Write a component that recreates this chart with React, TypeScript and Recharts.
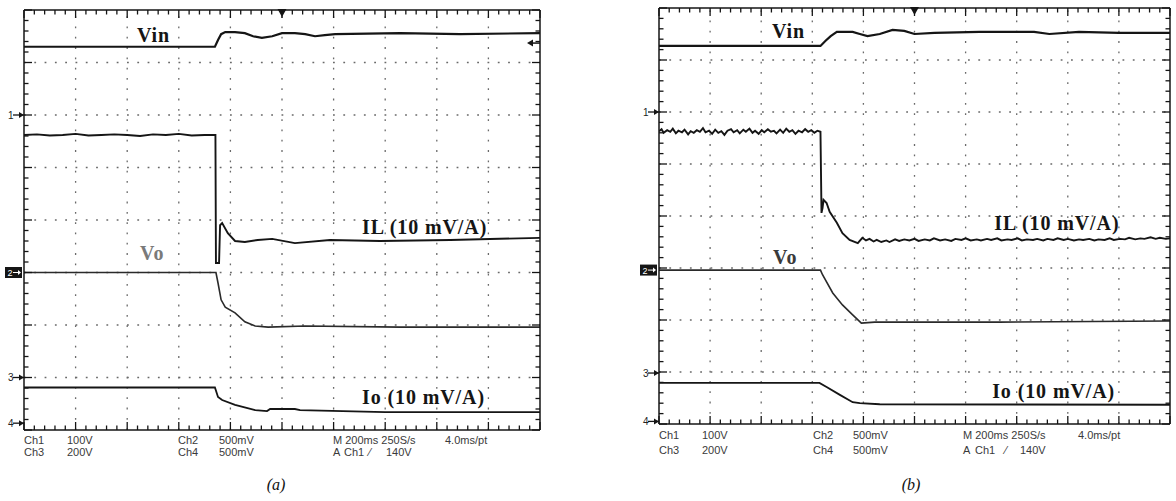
import React from 'react';
import { LineChart, Line, XAxis, YAxis, ReferenceLine, ReferenceDot } from 'recharts';

type Pt = [number, number];

// Time in screen divisions (0..10), level in divisions from the bottom (0..8)
// ---------- Panel (a) ----------
const VIN_A: Pt[] = [[0, 7.3], [3.7, 7.3], [3.76, 7.43], [3.82, 7.54], [3.9, 7.58], [4.09, 7.58], [4.28, 7.56], [4.44, 7.5], [4.61, 7.47], [4.81, 7.5], [5.0, 7.56], [5.25, 7.56], [5.45, 7.54], [5.64, 7.5], [5.83, 7.52], [6.03, 7.54], [7.29, 7.56], [8.45, 7.54], [10, 7.56]];
const IL_A: Pt[] = [[0, 5.62], [0.25, 5.63], [0.5, 5.61], [0.75, 5.62], [1.0, 5.64], [1.25, 5.61], [1.5, 5.62], [1.75, 5.63], [2.0, 5.62], [2.25, 5.6], [2.5, 5.63], [2.75, 5.62], [3.0, 5.64], [3.25, 5.61], [3.5, 5.62], [3.71, 5.62], [3.72, 3.18], [3.78, 3.18], [3.8, 3.9], [3.84, 3.94], [3.95, 3.75], [4.09, 3.6], [4.28, 3.58], [4.53, 3.62], [4.81, 3.64], [5.25, 3.56], [5.93, 3.62], [6.9, 3.6], [8.26, 3.62], [10, 3.66]];
const VO_A: Pt[] = [[0, 3.0], [3.72, 3.0], [3.76, 2.8], [3.82, 2.48], [3.9, 2.34], [4.09, 2.23], [4.28, 2.06], [4.48, 1.98], [4.73, 1.96], [5.45, 1.98], [7.29, 1.96], [10, 1.96]];
const IO_A: Pt[] = [[0, 0.81], [3.7, 0.81], [3.76, 0.63], [3.84, 0.57], [4.09, 0.48], [4.48, 0.38], [4.71, 0.36], [4.77, 0.4], [5.25, 0.4], [5.35, 0.38], [7.0, 0.34], [10, 0.34]];

// ---------- Panel (b) ----------
const VIN_B: Pt[] = [[0, 7.27], [3.16, 7.27], [3.26, 7.37], [3.36, 7.46], [3.48, 7.54], [3.63, 7.54], [3.79, 7.54], [3.93, 7.5], [4.08, 7.46], [4.32, 7.5], [4.57, 7.58], [4.8, 7.56], [5.0, 7.5], [5.39, 7.52], [6.27, 7.54], [7.34, 7.54], [7.64, 7.5], [8.22, 7.54], [9.0, 7.52], [10, 7.52]];
const IL_B: Pt[] = [[0, 5.63], [0.05, 5.67], [0.09, 5.6], [0.16, 5.65], [0.22, 5.62], [0.27, 5.68], [0.33, 5.59], [0.38, 5.64], [0.45, 5.61], [0.5, 5.66], [0.57, 5.57], [0.62, 5.63], [0.68, 5.6], [0.74, 5.65], [0.8, 5.62], [0.86, 5.69], [0.91, 5.61], [0.98, 5.64], [1.04, 5.58], [1.1, 5.66], [1.16, 5.6], [1.22, 5.63], [1.28, 5.56], [1.34, 5.64], [1.41, 5.67], [1.46, 5.61], [1.53, 5.65], [1.58, 5.59], [1.65, 5.66], [1.7, 5.62], [1.77, 5.68], [1.83, 5.6], [1.88, 5.64], [1.95, 5.58], [2.01, 5.65], [2.06, 5.61], [2.13, 5.67], [2.19, 5.62], [2.25, 5.64], [2.3, 5.59], [2.37, 5.66], [2.43, 5.6], [2.49, 5.68], [2.55, 5.62], [2.61, 5.65], [2.67, 5.58], [2.73, 5.64], [2.8, 5.61], [2.86, 5.67], [2.92, 5.62], [2.98, 5.65], [3.04, 5.6], [3.1, 5.64], [3.16, 5.62], [3.18, 4.06], [3.2, 4.15], [3.22, 4.31], [3.28, 4.25], [3.34, 4.08], [3.48, 3.87], [3.59, 3.67], [3.73, 3.54], [3.89, 3.48], [3.98, 3.58], [4.05, 3.53], [4.12, 3.56], [4.2, 3.51], [4.26, 3.54], [4.35, 3.5], [4.45, 3.53], [4.51, 3.5], [4.62, 3.55], [4.7, 3.52], [4.8, 3.55], [4.9, 3.53], [5.0, 3.56], [5.08, 3.52], [5.2, 3.55], [5.3, 3.53], [5.38, 3.57], [5.5, 3.53], [5.6, 3.55], [5.72, 3.52], [5.8, 3.56], [5.92, 3.54], [6.0, 3.57], [6.1, 3.53], [6.22, 3.55], [6.3, 3.53], [6.42, 3.56], [6.5, 3.54], [6.62, 3.57], [6.7, 3.53], [6.82, 3.55], [6.9, 3.54], [7.02, 3.57], [7.1, 3.53], [7.2, 3.55], [7.32, 3.54], [7.4, 3.56], [7.52, 3.53], [7.6, 3.56], [7.72, 3.54], [7.8, 3.57], [7.92, 3.54], [8.0, 3.56], [8.12, 3.53], [8.22, 3.55], [8.3, 3.54], [8.42, 3.56], [8.52, 3.53], [8.6, 3.55], [8.72, 3.54], [8.82, 3.57], [8.9, 3.54], [9.02, 3.56], [9.12, 3.55], [9.2, 3.58], [9.32, 3.55], [9.42, 3.57], [9.5, 3.56], [9.62, 3.59], [9.72, 3.56], [9.8, 3.58], [9.92, 3.56], [10, 3.57]];
const VO_B: Pt[] = [[0, 2.96], [3.16, 2.96], [3.2, 2.87], [3.4, 2.52], [3.59, 2.29], [3.79, 2.1], [3.96, 1.94], [4.22, 1.96], [6.66, 1.96], [10, 1.98]];
const IO_B: Pt[] = [[0, 0.79], [3.14, 0.79], [3.28, 0.71], [3.54, 0.56], [3.79, 0.42], [3.93, 0.4], [4.32, 0.38], [10, 0.37]];

// Channel reference markers (level, name)
const CH_NAMES = ['1', '2', '3', '4'];
const CH_LEVELS_A = [6.0, 3.0, 1.0, 0.13];
const CH_LEVELS_B = [6.0, 2.96, 0.98, 0.05];
const TRIG_POS = 5;
const TRIG_LEVEL_A = 7.37;

// Trace annotations
const ANNOT_TEXT = ['Vin', 'IL (10 mV/A)', 'Vo', 'Io (10 mV/A)'];
const ANNOT_A_T = [2.19, 6.55, 2.25, 6.55];
const ANNOT_A_V = [7.39, 3.73, 3.24, 0.5];
const ANNOT_B_T = [2.21, 6.56, 2.23, 6.52];
const ANNOT_B_V = [7.43, 3.73, 3.08, 0.5];

// Status text
const STATUS_ROW1 = ['Ch1', '100V', 'Ch2', '500mV', 'M 200ms 250S/s', '4.0ms/pt'];
const STATUS_ROW2 = ['Ch3', '200V', 'Ch4', '500mV', 'A', 'Ch1', '\u2044', '140V'];

const GRID_X = [1, 2, 3, 4, 5, 6, 7, 8, 9];
const GRID_Y = [1, 2, 3, 4, 5, 6, 7];
const MINOR_X = Array.from({ length: 51 }, (_, i) => Math.round(i * 2) / 10);
const MINOR_Y = Array.from({ length: 41 }, (_, i) => Math.round(i * 2) / 10);

const rows = (pts: Pt[]) => pts.map(([t, v]) => ({ t, v }));

const INK = '#151515';
const SERIF = "'Liberation Serif', 'Times New Roman', serif";
const SANS = "'Liberation Sans', Arial, sans-serif";

const borderTick = (side: 'top' | 'bottom' | 'left' | 'right') => (p: any) => {
  const { x, y, payload } = p;
  const val = Number(payload?.value ?? 0);
  const major = Math.abs(val - Math.round(val)) < 1e-6;
  const len = major ? 8 : 4.5;
  let x2 = x;
  let y2 = y;
  if (side === 'top') y2 = y + len;
  if (side === 'bottom') y2 = y - len;
  if (side === 'left') x2 = x + len;
  if (side === 'right') x2 = x - len;
  return <line x1={x} y1={y} x2={x2} y2={y2} stroke={INK} strokeWidth={1.3} />;
};

const chMarker = (name: string) => (p: any) => {
  const { cx, cy } = p;
  if (name === '2') {
    return (
      <g>
        <rect x={cx - 19} y={cy - 5.5} width={17} height={11} fill={INK} />
        <text x={cx - 16.5} y={cy + 3.5} fill="#fff" fontSize={9} fontFamily={SANS}>2</text>
        <line x1={cx - 11} y1={cy} x2={cx - 5} y2={cy} stroke="#fff" strokeWidth={1} />
        <path d={`M${cx - 6},${cy - 2.5} L${cx - 3},${cy} L${cx - 6},${cy + 2.5} Z`} fill="#fff" />
      </g>
    );
  }
  return (
    <g>
      <text x={cx - 16} y={cy + 3.5} fill="#222" fontSize={10} fontFamily={SANS}>{name}</text>
      <line x1={cx - 11} y1={cy} x2={cx} y2={cy} stroke={INK} strokeWidth={1.3} />
      <path d={`M${cx - 5},${cy - 3} L${cx},${cy} L${cx - 5},${cy + 3} Z`} fill={INK} />
    </g>
  );
};

const trigShape = (p: any) => {
  const { cx, cy } = p;
  return <path d={`M${cx - 4.5},${cy - 1} L${cx + 4.5},${cy - 1} L${cx},${cy + 7} Z`} fill={INK} />;
};

const levelShape = (p: any) => {
  const { cx, cy } = p;
  return (
    <g>
      <line x1={cx - 8} y1={cy} x2={cx} y2={cy} stroke={INK} strokeWidth={1.5} />
      <path d={`M${cx - 13},${cy} L${cx - 7},${cy - 3.5} L${cx - 7},${cy + 3.5} Z`} fill={INK} />
    </g>
  );
};

const textShape = (text: string, fill: string) => (p: any) => (
  <text x={p.cx} y={p.cy} fill={fill} fontSize={20} fontWeight="bold" fontFamily={SERIF} letterSpacing={0.9}>
    {text}
  </text>
);

type PanelProps = {
  left: number;
  width: number;
  margin: { top: number; right: number; bottom: number; left: number };
  vin: Pt[];
  il: Pt[];
  vo: Pt[];
  io: Pt[];
  chLevels: number[];
  annT: number[];
  annV: number[];
  voLabelColor: string;
  trigLevel?: number;
};

function Panel(props: PanelProps) {
  const { left, width, margin, vin, il, vo, io, chLevels, annT, annV, voLabelColor, trigLevel } = props;
  const axisLine = { stroke: INK, strokeWidth: 1.5 };
  // border axes take 1px each; remove it from the margins so the plot keeps its place
  const m = { top: margin.top - 1, right: margin.right - 1, bottom: margin.bottom - 1, left: margin.left - 1 };
  const gridStyle = { stroke: '#6a6a6a', strokeDasharray: '1.8 8.5', strokeWidth: 1.3 };
  return (
    <div style={{ position: 'absolute', left, top: 0 }}>
      <LineChart width={width} height={501} margin={m}>
        <XAxis xAxisId={0} dataKey="t" orientation="bottom" type="number" domain={[0, 10]} ticks={MINOR_X} interval={0}
          height={1} tickSize={0} tickMargin={0} tickLine={false} axisLine={axisLine} tick={borderTick('bottom')} allowDataOverflow />
        <XAxis xAxisId="top" dataKey="t" orientation="top" type="number" domain={[0, 10]} ticks={MINOR_X} interval={0}
          height={1} tickSize={0} tickMargin={0} tickLine={false} axisLine={axisLine} tick={borderTick('top')} allowDataOverflow />
        <YAxis yAxisId={0} orientation="left" type="number" domain={[0, 8]} ticks={MINOR_Y} interval={0}
          width={1} tickSize={0} tickMargin={0} tickLine={false} axisLine={axisLine} tick={borderTick('left')} allowDataOverflow />
        <YAxis yAxisId="rgt" orientation="right" type="number" domain={[0, 8]} ticks={MINOR_Y} interval={0}
          width={1} tickSize={0} tickMargin={0} tickLine={false} axisLine={axisLine} tick={borderTick('right')} allowDataOverflow />

        {GRID_X.map((g) => (
          <ReferenceLine key={'gx' + g} x={g} {...gridStyle} />
        ))}
        {GRID_Y.map((g) => (
          <ReferenceLine key={'gy' + g} y={g} {...gridStyle} />
        ))}

        <Line xAxisId="top" yAxisId="rgt" data={rows(vin)} dataKey="v" type="linear" stroke={INK} strokeWidth={2.2} dot={false} isAnimationActive={false} />
        <Line data={rows(il)} dataKey="v" type="linear" stroke={INK} strokeWidth={1.9} dot={false} isAnimationActive={false} />
        <Line data={rows(vo)} dataKey="v" type="linear" stroke="#2a2a2a" strokeWidth={1.6} dot={false} isAnimationActive={false} />
        <Line data={rows(io)} dataKey="v" type="linear" stroke={INK} strokeWidth={1.8} dot={false} isAnimationActive={false} />

        {chLevels.map((lv, i) => (
          <ReferenceDot key={'ch' + i} x={0} y={lv} r={0} ifOverflow="visible" shape={chMarker(CH_NAMES[i])} />
        ))}
        <ReferenceDot x={TRIG_POS} y={8} r={0} ifOverflow="visible" shape={trigShape} />
        {trigLevel !== undefined && (
          <ReferenceDot x={10} y={trigLevel} r={0} ifOverflow="visible" shape={levelShape} />
        )}
        {ANNOT_TEXT.map((txt, i) => (
          <ReferenceDot key={'an' + i} x={annT[i]} y={annV[i]} r={0} ifOverflow="visible"
            shape={textShape(txt, i === 2 ? voLabelColor : INK)} />
        ))}
      </LineChart>
    </div>
  );
}

const txt = (s: string, x: number, y: number, key: string) => (
  <text key={key} x={x} y={y} fontSize={11} fontFamily={SANS} fill="#3a3a3a">{s}</text>
);

export default function App() {
  const aRow1X = [24, 67, 178, 219, 333, 445];
  const aRow2X = [24, 67, 178, 219, 333, 344, 369, 386];
  const bRow1X = [659, 702, 813, 853, 963, 1078];
  const bRow2X = [659, 702, 813, 853, 963, 975, 1005, 1020];
  return (
    <div style={{ position: 'absolute', left: 0, top: 0, width: 1176, height: 501, background: '#fff', overflow: 'hidden' }}>
      <Panel left={0} width={560} margin={{ top: 10, right: 20, bottom: 71, left: 24 }}
        vin={VIN_A} il={IL_A} vo={VO_A} io={IO_A} chLevels={CH_LEVELS_A}
        annT={ANNOT_A_T} annV={ANNOT_A_V} voLabelColor="#7a7a7a" trigLevel={TRIG_LEVEL_A} />
      <Panel left={620} width={556} margin={{ top: 8, right: 6, bottom: 77, left: 39 }}
        vin={VIN_B} il={IL_B} vo={VO_B} io={IO_B} chLevels={CH_LEVELS_B}
        annT={ANNOT_B_T} annV={ANNOT_B_V} voLabelColor="#3a3a3a" />
      <svg width={1176} height={501} style={{ position: 'absolute', left: 0, top: 0, pointerEvents: 'none' }}>
        {STATUS_ROW1.map((s, i) => txt(s, aRow1X[i], 444, 'a1' + i))}
        {STATUS_ROW2.map((s, i) => txt(s, aRow2X[i], 456, 'a2' + i))}
        {STATUS_ROW1.map((s, i) => txt(s, bRow1X[i], 439, 'b1' + i))}
        {STATUS_ROW2.map((s, i) => txt(s, bRow2X[i], 454, 'b2' + i))}
        <text x={276} y={490} textAnchor="middle" fontSize={16} fontStyle="italic" fontFamily={SERIF} fill="#111">(a)</text>
        <text x={911} y={490} textAnchor="middle" fontSize={16} fontStyle="italic" fontFamily={SERIF} fill="#111">(b)</text>
      </svg>
    </div>
  );
}
